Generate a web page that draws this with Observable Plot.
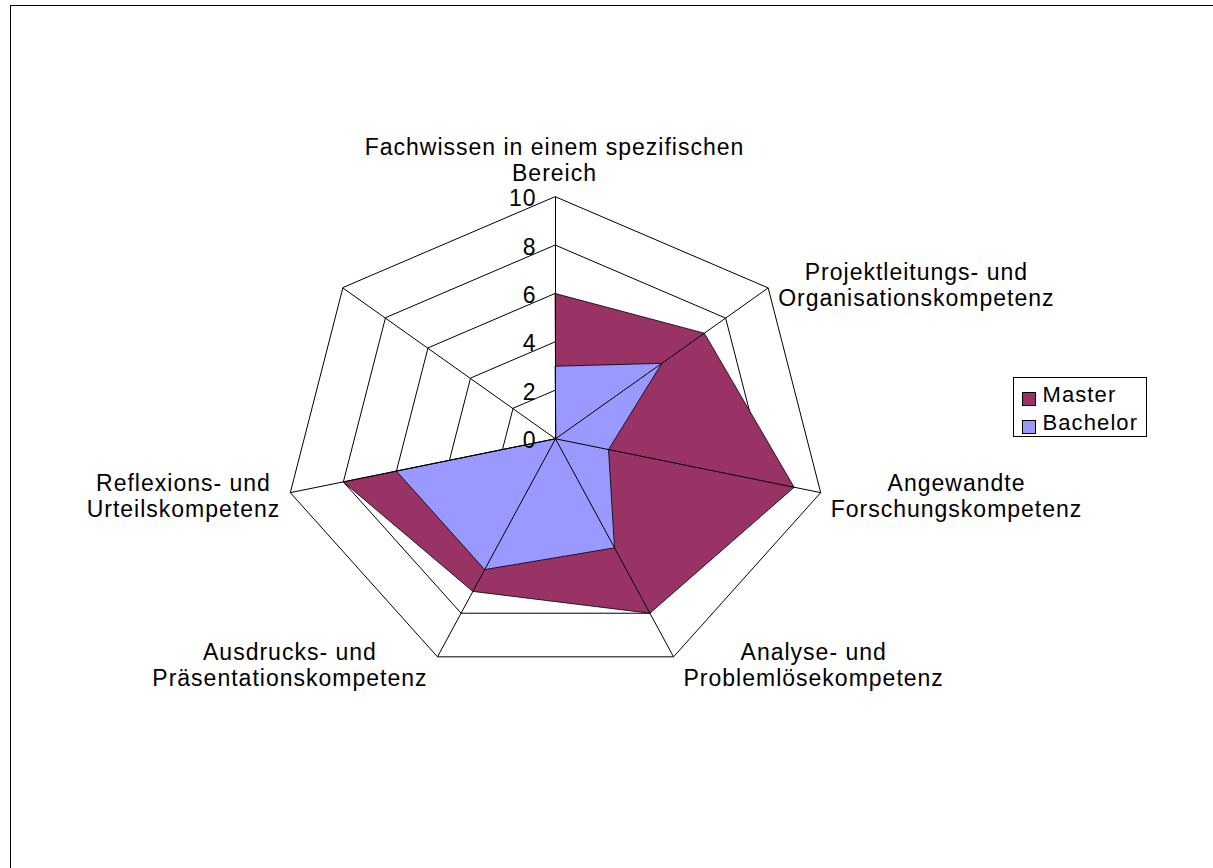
<!DOCTYPE html>
<html>
<head>
<meta charset="utf-8">
<script src="https://cdn.jsdelivr.net/npm/d3@7"></script>
<script src="https://cdn.jsdelivr.net/npm/@observablehq/plot@0.6"></script>
<style>
  html, body { margin: 0; padding: 0; background: #fff; overflow: hidden; }
  #wrap { position: relative; width: 1213px; height: 868px; overflow: hidden; background: #fff; }
  #chart { position: absolute; left: 0; top: 0; }
  #frame { position: absolute; left: 9.5px; top: 4.5px; width: 1400px; height: 1100px;
           border-top: 1px solid #000; border-left: 1px solid #000; pointer-events: none; }
  #legend { position: absolute; left: 1012.5px; top: 377px; width: 134px; height: 60px;
            border: 1px solid #000; background: #fff; box-sizing: border-box;
            font-family: "Liberation Sans", Arial, sans-serif; font-size: 22px; letter-spacing: 1.1px;
            padding-top: 3px; }
  .row { position: relative; height: 28.4px; line-height: 28.4px; padding-left: 29px; white-space: nowrap; color: #000; }
  .sw { position: absolute; left: 8.5px; top: 11px; width: 14px; height: 14px; box-sizing: border-box; border: 1px solid #000; }
</style>
</head>
<body>
<div id="wrap">
  <div id="chart"></div>
  <div id="frame"></div>
  <div id="legend"></div>
</div>
<script>
// ---- data ----
const categories = [
  "Fachwissen in einem spezifischen\nBereich",
  "Projektleitungs- und\nOrganisationskompetenz",
  "Angewandte\nForschungskompetenz",
  "Analyse- und\nProblemlösekompetenz",
  "Ausdrucks- und\nPräsentationskompetenz",
  "Reflexions- und\nUrteilskompetenz",
  ""
];
const seriesNames = ["Master", "Bachelor"];
const master   = [6, 7, 9, 8, 7, 8, 0];
const bachelor = [3, 5, 2, 5, 6, 6, 0];
const tickValues = [0, 2, 4, 6, 8, 10];
const ringValues = [2, 4, 6, 8, 10];
const colors = ["#993366", "#9999FF"];

// ---- layout ----
const W = 1213, H = 868;
const CX = 555, CY = 438.3;     // centre in pixels
const KX = 27.2, KY = 24.2;     // pixels per value unit
const FS = 23, LS = 1.0, LH = 1.109, GAP = 10;
const FONT = '"Liberation Sans", Arial, sans-serif';
const maxV = d3.max(tickValues);

const n = categories.length;
const ang = i => i * 2 * Math.PI / n;
const pt = (i, v) => ({x: v * Math.sin(ang(i)), y: v * Math.cos(ang(i))});

const rings = ringValues.flatMap(r => categories.map((c, i) => ({ring: r, ...pt(i, r)})));
const spokes = categories.map((c, i) => ({i, ...pt(i, maxV)}));
const masterPts = master.map((v, i) => pt(i, v));
const bachelorPts = bachelor.map((v, i) => pt(i, v));
const ticks = tickValues.map(v => ({v, label: String(v)}));

// label positions
const ctx = document.createElement("canvas").getContext("2d");
ctx.font = `${FS}px ${FONT}`;
const measure = s => ctx.measureText(s).width + LS * s.length;
const labels = categories.map((c, i) => {
  if (!c) return null;
  const s = Math.sin(ang(i)), co = Math.cos(ang(i));
  const vx = CX + maxV * s * KX, vy = CY - maxV * co * KY;
  const w = d3.max(c.split("\n"), measure);
  let px, py, anchor;
  if (Math.abs(s) < 0.1) { px = vx - 1; py = vy - 16; anchor = "bottom"; }
  else { px = s > 0 ? vx + GAP + w / 2 : vx - GAP - w / 2; py = vy + 1.5 - 7 * co; anchor = "middle"; }
  return {text: c, x: (px - CX) / KX, y: (CY - py) / KY, anchor};
}).filter(Boolean);

const chart = Plot.plot({
  width: W, height: H,
  margin: 0,
  x: {type: "linear", domain: [-CX / KX, (W - CX) / KX], axis: null},
  y: {type: "linear", domain: [-(H - CY) / KY, CY / KY], axis: null},
  style: {fontFamily: FONT, letterSpacing: LS + "px", background: "transparent", overflow: "visible"},
  marks: [
    Plot.line(rings, {x: "x", y: "y", z: "ring", curve: "linear-closed", stroke: "#000", strokeWidth: 1, strokeLinejoin: "miter"}),
    Plot.line(masterPts, {x: "x", y: "y", curve: "linear-closed", fill: colors[0], stroke: "#000", strokeWidth: 0.8, strokeLinejoin: "miter"}),
    Plot.line(bachelorPts, {x: "x", y: "y", curve: "linear-closed", fill: colors[1], stroke: "#000", strokeWidth: 0.8, strokeLinejoin: "miter"}),
    Plot.link(spokes, {x1: 0, y1: 0, x2: "x", y2: "y", stroke: "#000", strokeWidth: 1}),
    Plot.text(ticks, {x: 0, y: "v", text: "label", textAnchor: "end", lineAnchor: "middle", dx: -19, dy: 2, fontSize: FS, fill: "#000"}),
    Plot.text(labels.filter(d => d.anchor === "middle"), {x: "x", y: "y", text: "text", textAnchor: "middle", lineAnchor: "middle", lineHeight: LH, fontSize: FS, fill: "#000"}),
    Plot.text(labels.filter(d => d.anchor === "bottom"), {x: "x", y: "y", text: "text", textAnchor: "middle", lineAnchor: "bottom", lineHeight: LH, fontSize: FS, fill: "#000"})
  ]
});
document.getElementById("chart").appendChild(chart);

// legend
const legend = d3.select("#legend");
seriesNames.forEach((name, i) => {
  const row = legend.append("div").attr("class", "row");
  row.append("div").attr("class", "sw").style("background", colors[i]);
  row.append("span").text(name);
});
</script>
</body>
</html>
